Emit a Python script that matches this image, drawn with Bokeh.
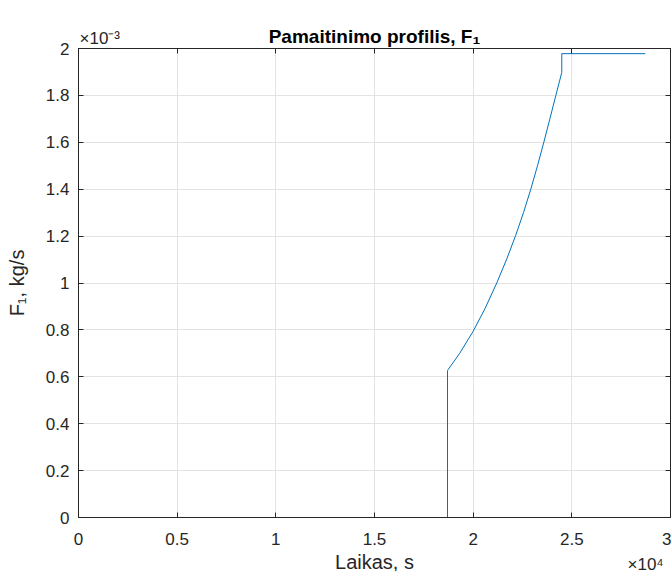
import math
from bokeh.plotting import figure
from bokeh.layouts import column
from bokeh.models import (Range1d, LinearAxis, FixedTicker, CustomJSTickFormatter, Label)
from bokeh.embed import file_html
from bokeh.resources import INLINE

# Data (time in s, feed in kg/s)
time_s = [0, 18700, 18700, 19300, 20000, 20600, 21200, 21700, 22150, 22550, 22920,
          23260, 23580, 23890, 24190, 24490, 24490, 28720]
feed_kgs = [0.0, 0.0, 0.627e-3, 0.698e-3, 0.794e-3, 0.891e-3, 1.001e-3, 1.102e-3, 1.202e-3,
            1.300e-3, 1.400e-3, 1.500e-3, 1.600e-3, 1.701e-3, 1.800e-3, 1.898e-3,
            1.978e-3, 1.978e-3]

x_ticks = [0, 5000, 10000, 15000, 20000, 25000, 30000]
y_ticks = [0, 0.0002, 0.0004, 0.0006, 0.0008, 0.0010, 0.0012, 0.0014, 0.0016, 0.0018, 0.0020]

title_text = "Pamaitinimo profilis, F\u2081"
xlabel_text = "Laikas, s"
ylabel_text = "F\u2081, kg/s"
yexp_text = "\u00d710\u207b\u00b3"
xexp_text = "\u00d710\u2074"

AX = "#262626"
FONT = "Liberation Sans"
TICK_FS = "17px"
LABEL_FS = "20px"

p = figure(width=671, height=553, output_backend="svg", toolbar_location=None,
           x_range=Range1d(0, 30000), y_range=Range1d(0, 0.002))
p.min_border_left = 78
p.min_border_right = 1
p.min_border_top = 48
p.min_border_bottom = 36
p.background_fill_color = "white"
p.border_fill_color = "white"
p.outline_line_color = AX
p.outline_line_width = 1

xfmt = CustomJSTickFormatter(code="var v = tick/1e4; return (Math.round(v*10)/10).toString();")
yfmt = CustomJSTickFormatter(code="var v = tick*1e3; return (Math.round(v*10)/10).toString();")

def style_axis(ax, labels=True):
    ax.axis_line_color = AX
    ax.major_tick_line_color = AX
    ax.major_tick_in = 5
    ax.major_tick_out = 0
    ax.minor_tick_line_color = None
    ax.major_label_text_font = FONT
    ax.major_label_text_font_size = TICK_FS
    ax.major_label_text_color = AX
    ax.axis_label_text_font = FONT
    ax.axis_label_text_font_size = LABEL_FS
    ax.axis_label_text_font_style = "normal"
    ax.axis_label_text_color = AX
    if not labels:
        ax.major_label_text_font_size = "0px"
        ax.major_label_text_color = None
        ax.major_label_standoff = 0

xa = p.xaxis[0]
xa.ticker = FixedTicker(ticks=x_ticks)
xa.formatter = xfmt
style_axis(xa)
xa.major_label_standoff = 15

ya = p.yaxis[0]
ya.ticker = FixedTicker(ticks=y_ticks)
ya.formatter = yfmt
style_axis(ya)
ya.major_label_standoff = 9
ya.axis_label = ylabel_text
ya.axis_label_standoff = 15

top = LinearAxis(ticker=FixedTicker(ticks=x_ticks), formatter=xfmt)
style_axis(top, labels=False)
p.add_layout(top, "above")
right = LinearAxis(ticker=FixedTicker(ticks=y_ticks), formatter=yfmt)
style_axis(right, labels=False)
p.add_layout(right, "right")

p.xgrid.ticker = FixedTicker(ticks=x_ticks)
p.ygrid.ticker = FixedTicker(ticks=y_ticks)
p.xgrid.grid_line_color = "#e3e3e3"
p.ygrid.grid_line_color = "#e3e3e3"
p.grid.grid_line_width = 1

p.line(time_s, feed_kgs, line_color="#0072BD", line_width=1)

# Title and y exponent in the top panel (canvas units, not clipped to the frame)
p.add_layout(Label(x=374, y=36, x_units="canvas", y_units="canvas", text=title_text,
                   text_font=FONT, text_font_size="19px", text_font_style="bold",
                   text_color="black", text_align="center", text_baseline="middle"),
             "above")
p.add_layout(Label(x=79, y=38, x_units="canvas", y_units="canvas", text=yexp_text,
                   text_font=FONT, text_font_size=TICK_FS, text_color=AX,
                   text_align="left", text_baseline="middle"),
             "above")

# Footer strip: x axis label and x exponent (canvas units of the strip)
f = figure(width=671, height=18, output_backend="svg", toolbar_location=None,
           x_range=Range1d(0, 671), y_range=Range1d(0, 18),
           x_axis_location=None, y_axis_location=None)
f.min_border = 0
f.min_border_left = 0
f.min_border_right = 0
f.min_border_top = 0
f.min_border_bottom = 0
f.outline_line_color = None
f.background_fill_color = "white"
f.border_fill_color = "white"
f.xgrid.visible = False
f.ygrid.visible = False
f.add_layout(Label(x=374, y=8, x_units="canvas", y_units="canvas", text=xlabel_text,
                   text_font=FONT, text_font_size=LABEL_FS, text_color=AX,
                   text_align="center", text_baseline="middle"))
f.add_layout(Label(x=627, y=11, x_units="canvas", y_units="canvas", text=xexp_text,
                   text_font=FONT, text_font_size=TICK_FS, text_color=AX,
                   text_align="left", text_baseline="middle"))

layout = column(p, f, spacing=0)
open("out.html", "w").write(file_html(layout, INLINE))
